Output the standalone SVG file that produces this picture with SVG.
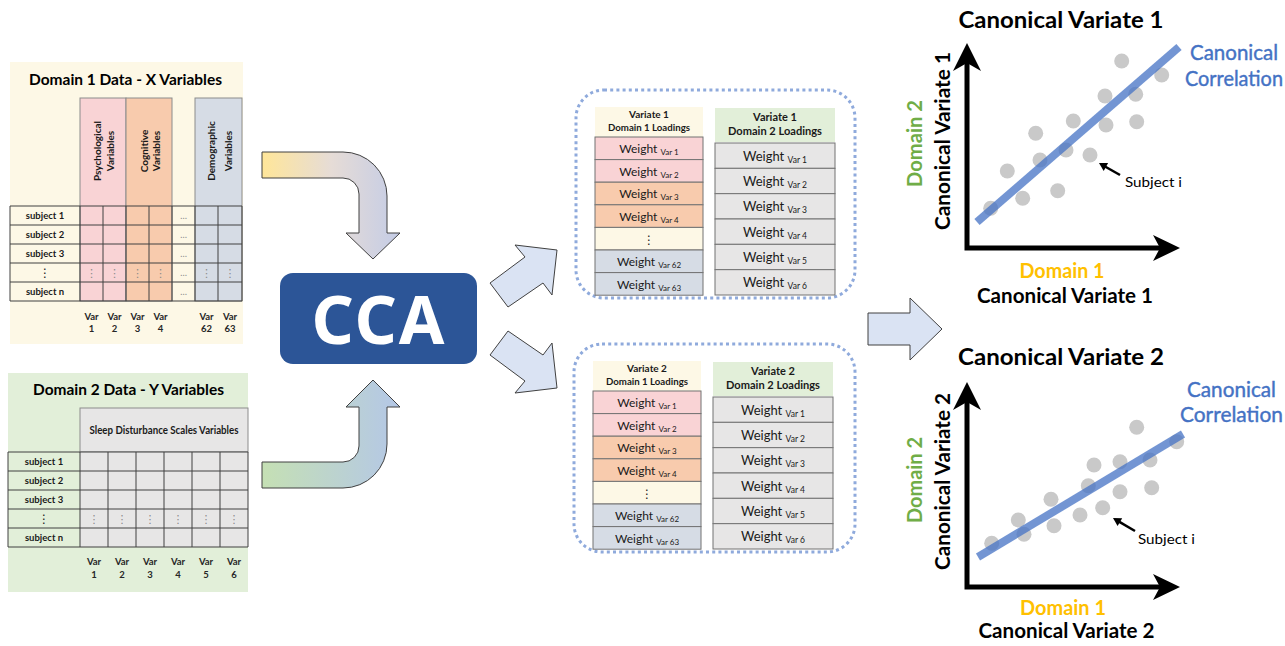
<svg xmlns="http://www.w3.org/2000/svg" width="1285" height="646" viewBox="0 0 1285 646">
<defs>
<style>
text{font-family:Lato,"Liberation Sans",sans-serif}
.b{font-weight:bold}
.hd{stroke:#8c8c8c;stroke-width:1}
.grid{stroke:#404040;stroke-width:1;fill:none}
.sl{font-size:9.5px;font-weight:bold;fill:#1a1a1a;text-anchor:middle}
.vd{font-family:"DejaVu Sans",sans-serif;fill:#8a8a8a;font-size:11px;text-anchor:middle}
.vdk{font-family:"DejaVu Sans",sans-serif;fill:#1a1a1a;font-size:12px;text-anchor:middle}
.el{fill:#8a8a8a;font-size:9px;text-anchor:middle}
.vl{font-size:9.5px;font-weight:bold;fill:#262626;text-anchor:middle}
.rot{font-size:10px;font-weight:bold;fill:#1a1a1a;text-anchor:middle;dominant-baseline:central}
.cell{stroke:#737373;stroke-width:1}
.w{font-size:12px;fill:#1a1a1a;text-anchor:middle}
.w2{font-size:13px;fill:#1a1a1a;text-anchor:middle}
.lh{font-size:10px;font-weight:bold;fill:#1a1a1a;text-anchor:middle}
.lh2{font-size:11px;font-weight:bold;fill:#1a1a1a;text-anchor:middle}
.pk{fill:#f9d3d5}.or{fill:#f8cbad}.cr{fill:#fdf8e6}.bl{fill:#d6dce5}.gy{fill:#e7e6e6}
.dot{fill:#c9c9c9}
.fit{stroke:#4472c4;stroke-opacity:.75;stroke-width:8}
.ax{stroke:#000;stroke-width:5;fill:none}
.title{font-size:22px;font-weight:bold;fill:#000;text-anchor:middle}
.cc{font-size:20.5px;fill:#4472c4;text-anchor:middle;stroke:#4472c4;stroke-width:0.4}
.d2{font-size:21px;font-weight:bold;fill:#70ad47;text-anchor:middle}
.d1{font-size:20px;font-weight:bold;fill:#ffc000;text-anchor:middle}
.yl{font-size:21px;font-weight:bold;fill:#000;text-anchor:middle}
.si{font-size:14px;fill:#000}
.dotbox{fill:none;stroke:#8faadc;stroke-width:3;stroke-dasharray:3 3.2}
.arw{fill:#dae3f3;stroke:#404040;stroke-width:1}
</style>
<linearGradient id="gTop" gradientUnits="userSpaceOnUse" x1="262" y1="0" x2="400" y2="0">
<stop offset="0" stop-color="#ffe699"/>
<stop offset="0.5" stop-color="#e6dcd6"/>
<stop offset="1" stop-color="#c4cce6"/>
</linearGradient>
<linearGradient id="gBot" gradientUnits="userSpaceOnUse" x1="262" y1="0" x2="400" y2="0">
<stop offset="0" stop-color="#c5e0b4"/>
<stop offset="1" stop-color="#b4c7e7"/>
</linearGradient>
</defs>
<rect width="1285" height="646" fill="#fff"/>

<g id="domain1">
<rect x="10" y="62" width="233" height="282" class="cr"/>
<text x="125.5" y="85" font-size="16" class="b" text-anchor="middle" textLength="193" lengthAdjust="spacingAndGlyphs">Domain 1 Data - X Variables</text>
<rect x="80" y="98" width="46" height="203" class="pk hd"/>
<rect x="126" y="98" width="46" height="203" class="or hd"/>
<rect x="195" y="98" width="47" height="203" class="bl hd"/>
<text class="rot" transform="translate(97,151) rotate(-90)">Psychological</text>
<text class="rot" transform="translate(110,151) rotate(-90)">Variables</text>
<text class="rot" transform="translate(143.5,151) rotate(-90)">Cognitive</text>
<text class="rot" transform="translate(156,151) rotate(-90)">Variables</text>
<text class="rot" transform="translate(211,151) rotate(-90)">Demographic</text>
<text class="rot" transform="translate(227.5,151) rotate(-90)">Variables</text>
<path class="grid" d="M10 206H242M10 225H242M10 244H242M10 263H242M10 282H242M10 301H242M10 206V301M80 206V301M103 206V301M126 206V301M149 206V301M172 206V301M195 206V301M218 206V301M242 206V301"/>
<text class="sl" x="45" y="219">subject 1</text>
<text class="sl" x="45" y="238">subject 2</text>
<text class="sl" x="45" y="257">subject 3</text>
<text class="vdk" x="45" y="277">⋮</text>
<text class="sl" x="45" y="295">subject n</text>
<text class="el" x="183.5" y="219">…</text>
<text class="el" x="183.5" y="238">…</text>
<text class="el" x="183.5" y="257">…</text>
<text class="el" x="183.5" y="276">…</text>
<text class="el" x="183.5" y="295">…</text>
<text class="vd" x="91.5" y="277">⋮</text>
<text class="vd" x="114.5" y="277">⋮</text>
<text class="vd" x="137.5" y="277">⋮</text>
<text class="vd" x="160.5" y="277">⋮</text>
<text class="vd" x="206.5" y="277">⋮</text>
<text class="vd" x="230" y="277">⋮</text>
<text class="vl" x="91.5" y="320">Var</text><text class="vl" x="91.5" y="332">1</text>
<text class="vl" x="114.5" y="320">Var</text><text class="vl" x="114.5" y="332">2</text>
<text class="vl" x="137.5" y="320">Var</text><text class="vl" x="137.5" y="332">3</text>
<text class="vl" x="160.5" y="320">Var</text><text class="vl" x="160.5" y="332">4</text>
<text class="vl" x="206.5" y="320">Var</text><text class="vl" x="206.5" y="332">62</text>
<text class="vl" x="230" y="320">Var</text><text class="vl" x="230" y="332">63</text>
</g>

<g id="domain2">
<rect x="8" y="373" width="240" height="219" fill="#e2efd9"/>
<text x="128.5" y="395" font-size="16" class="b" text-anchor="middle" textLength="191" lengthAdjust="spacingAndGlyphs">Domain 2 Data - Y Variables</text>
<rect x="80" y="408" width="168" height="44" class="gy hd"/>
<text x="164" y="434" font-size="10.5" class="b" fill="#1a1a1a" text-anchor="middle" textLength="149" lengthAdjust="spacingAndGlyphs">Sleep Disturbance Scales Variables</text>
<rect x="80" y="452" width="168" height="95" class="gy"/>
<path class="grid" d="M8 452H248M8 471H248M8 490H248M8 509H248M8 528H248M8 547H248M8 452V547M80 452V547M108 452V547M136 452V547M164 452V547M192 452V547M220 452V547M248 452V547"/>
<text class="sl" x="44" y="465">subject 1</text>
<text class="sl" x="44" y="484">subject 2</text>
<text class="sl" x="44" y="503">subject 3</text>
<text class="vdk" x="44" y="523">⋮</text>
<text class="sl" x="44" y="541">subject n</text>
<text class="vd" x="94" y="523">⋮</text>
<text class="vd" x="122" y="523">⋮</text>
<text class="vd" x="150" y="523">⋮</text>
<text class="vd" x="178" y="523">⋮</text>
<text class="vd" x="206" y="523">⋮</text>
<text class="vd" x="234" y="523">⋮</text>
<text class="vl" x="94" y="565">Var</text><text class="vl" x="94" y="578">1</text>
<text class="vl" x="122" y="565">Var</text><text class="vl" x="122" y="578">2</text>
<text class="vl" x="150" y="565">Var</text><text class="vl" x="150" y="578">3</text>
<text class="vl" x="178" y="565">Var</text><text class="vl" x="178" y="578">4</text>
<text class="vl" x="206" y="565">Var</text><text class="vl" x="206" y="578">5</text>
<text class="vl" x="234" y="565">Var</text><text class="vl" x="234" y="578">6</text>
</g>

<g id="connectors">
<path d="M262 152H343A44 44 0 0 1 387 196V233H400L373 259L346 233H359V194A16 16 0 0 0 343 178H262Z" fill="url(#gTop)" stroke="#404040" stroke-width="1"/>
<path d="M262 488H343A44 44 0 0 0 387 444V407H400L373 380L346 407H359V446A16 16 0 0 1 343 462H262Z" fill="url(#gBot)" stroke="#404040" stroke-width="1"/>
<polygon class="arw" points="490,283 525,257 515,245 557,250 552,295 543,283 508,307"/>
<polygon class="arw" points="490,355 525,381 515,393 557,388 552,343 543,355 508,331"/>
<polygon class="arw" points="868,313 910,313 910,298 942,329 910,360 910,345 868,345"/>
</g>

<g id="cca">
<rect x="280" y="273" width="197" height="91" rx="13" fill="#2c5597"/>
<text x="379" y="344" font-weight="700" font-size="66" fill="#fff" text-anchor="middle" letter-spacing="2" style="font-family:'Noto Sans','Open Sans',sans-serif">CCA</text>
</g>

<g id="loadings1">
<rect class="dotbox" x="576" y="90" width="279" height="208" rx="28"/>
<rect x="595" y="107" width="108" height="30" class="cr"/>
<text class="lh" x="649" y="118">Variate 1</text>
<text class="lh" x="649" y="131" textLength="82" lengthAdjust="spacingAndGlyphs">Domain 1 Loadings</text>
<rect x="595" y="137" width="108" height="22.6" class="pk cell"/>
<rect x="595" y="159.6" width="108" height="22.6" class="pk cell"/>
<rect x="595" y="182.2" width="108" height="22.6" class="or cell"/>
<rect x="595" y="204.8" width="108" height="22.6" class="or cell"/>
<rect x="595" y="227.4" width="108" height="22.6" class="cr cell"/>
<rect x="595" y="250" width="108" height="22.6" class="bl cell"/>
<rect x="595" y="272.6" width="108" height="22.6" class="bl cell"/>
<text class="w" x="649" y="153">Weight <tspan font-size="8" dy="2">Var 1</tspan></text>
<text class="w" x="649" y="175.6">Weight <tspan font-size="8" dy="2">Var 2</tspan></text>
<text class="w" x="649" y="198.2">Weight <tspan font-size="8" dy="2">Var 3</tspan></text>
<text class="w" x="649" y="220.8">Weight <tspan font-size="8" dy="2">Var 4</tspan></text>
<text class="vdk" x="649" y="244" font-size="14">⋮</text>
<text class="w" x="649" y="266">Weight <tspan font-size="8" dy="2">Var 62</tspan></text>
<text class="w" x="649" y="288.6">Weight <tspan font-size="8" dy="2">Var 63</tspan></text>
<rect x="715" y="108" width="120" height="34" fill="#e2efd9"/>
<text class="lh2" x="775" y="121">Variate 1</text>
<text class="lh2" x="775" y="135" textLength="94" lengthAdjust="spacingAndGlyphs">Domain 2 Loadings</text>
<rect x="715" y="143" width="120" height="25.33" class="gy cell"/>
<rect x="715" y="168.33" width="120" height="25.33" class="gy cell"/>
<rect x="715" y="193.67" width="120" height="25.33" class="gy cell"/>
<rect x="715" y="219" width="120" height="25.33" class="gy cell"/>
<rect x="715" y="244.33" width="120" height="25.33" class="gy cell"/>
<rect x="715" y="269.67" width="120" height="25.33" class="gy cell"/>
<text class="w2" x="775" y="160.5">Weight <tspan font-size="8.5" dy="2">Var 1</tspan></text>
<text class="w2" x="775" y="185.8">Weight <tspan font-size="8.5" dy="2">Var 2</tspan></text>
<text class="w2" x="775" y="211.2">Weight <tspan font-size="8.5" dy="2">Var 3</tspan></text>
<text class="w2" x="775" y="236.5">Weight <tspan font-size="8.5" dy="2">Var 4</tspan></text>
<text class="w2" x="775" y="261.8">Weight <tspan font-size="8.5" dy="2">Var 5</tspan></text>
<text class="w2" x="775" y="287.2">Weight <tspan font-size="8.5" dy="2">Var 6</tspan></text>
</g>

<g id="loadings2" transform="translate(-2,254)">
<rect class="dotbox" x="576" y="90" width="281" height="208" rx="28"/>
<rect x="595" y="107" width="108" height="30" class="cr"/>
<text class="lh" x="649" y="118">Variate 2</text>
<text class="lh" x="649" y="131" textLength="82" lengthAdjust="spacingAndGlyphs">Domain 1 Loadings</text>
<rect x="595" y="137" width="108" height="22.6" class="pk cell"/>
<rect x="595" y="159.6" width="108" height="22.6" class="pk cell"/>
<rect x="595" y="182.2" width="108" height="22.6" class="or cell"/>
<rect x="595" y="204.8" width="108" height="22.6" class="or cell"/>
<rect x="595" y="227.4" width="108" height="22.6" class="cr cell"/>
<rect x="595" y="250" width="108" height="22.6" class="bl cell"/>
<rect x="595" y="272.6" width="108" height="22.6" class="bl cell"/>
<text class="w" x="649" y="153">Weight <tspan font-size="8" dy="2">Var 1</tspan></text>
<text class="w" x="649" y="175.6">Weight <tspan font-size="8" dy="2">Var 2</tspan></text>
<text class="w" x="649" y="198.2">Weight <tspan font-size="8" dy="2">Var 3</tspan></text>
<text class="w" x="649" y="220.8">Weight <tspan font-size="8" dy="2">Var 4</tspan></text>
<text class="vdk" x="649" y="244" font-size="14">⋮</text>
<text class="w" x="649" y="266">Weight <tspan font-size="8" dy="2">Var 62</tspan></text>
<text class="w" x="649" y="288.6">Weight <tspan font-size="8" dy="2">Var 63</tspan></text>
<rect x="715" y="108" width="120" height="34" fill="#e2efd9"/>
<text class="lh2" x="775" y="121">Variate 2</text>
<text class="lh2" x="775" y="135" textLength="94" lengthAdjust="spacingAndGlyphs">Domain 2 Loadings</text>
<rect x="715" y="143" width="120" height="25.33" class="gy cell"/>
<rect x="715" y="168.33" width="120" height="25.33" class="gy cell"/>
<rect x="715" y="193.67" width="120" height="25.33" class="gy cell"/>
<rect x="715" y="219" width="120" height="25.33" class="gy cell"/>
<rect x="715" y="244.33" width="120" height="25.33" class="gy cell"/>
<rect x="715" y="269.67" width="120" height="25.33" class="gy cell"/>
<text class="w2" x="775" y="160.5">Weight <tspan font-size="8.5" dy="2">Var 1</tspan></text>
<text class="w2" x="775" y="185.8">Weight <tspan font-size="8.5" dy="2">Var 2</tspan></text>
<text class="w2" x="775" y="211.2">Weight <tspan font-size="8.5" dy="2">Var 3</tspan></text>
<text class="w2" x="775" y="236.5">Weight <tspan font-size="8.5" dy="2">Var 4</tspan></text>
<text class="w2" x="775" y="261.8">Weight <tspan font-size="8.5" dy="2">Var 5</tspan></text>
<text class="w2" x="775" y="287.2">Weight <tspan font-size="8.5" dy="2">Var 6</tspan></text>
</g>

<g id="plot1">
<text class="title" x="1061" y="28" textLength="205" lengthAdjust="spacingAndGlyphs">Canonical Variate 1</text>
<circle class="dot" cx="1121.7" cy="61" r="7.5"/>
<circle class="dot" cx="1161.7" cy="75" r="7.5"/>
<circle class="dot" cx="1105" cy="96" r="7.5"/>
<circle class="dot" cx="1135.7" cy="94.3" r="7.5"/>
<circle class="dot" cx="1073.3" cy="121" r="7.5"/>
<circle class="dot" cx="1106" cy="125" r="7.5"/>
<circle class="dot" cx="1136.7" cy="121.7" r="7.5"/>
<circle class="dot" cx="1035.7" cy="133.3" r="7.5"/>
<circle class="dot" cx="1066" cy="150" r="7.5"/>
<circle class="dot" cx="1090" cy="155" r="7.5"/>
<circle class="dot" cx="1040" cy="160" r="7.5"/>
<circle class="dot" cx="1007.3" cy="171" r="7.5"/>
<circle class="dot" cx="1057.7" cy="190.7" r="7.5"/>
<circle class="dot" cx="1022.7" cy="198.3" r="7.5"/>
<circle class="dot" cx="990.7" cy="208.3" r="7.5"/>
<line class="fit" x1="977" y1="222" x2="1179" y2="47"/>
<path class="ax" d="M967 58V250.5M964.5 248H1166"/>
<polygon points="967,43 981,71 967,63 953,71"/>
<polygon points="1180,248 1153,235 1160,248 1153,261"/>
<line x1="1120" y1="175" x2="1105" y2="166.5" stroke="#000" stroke-width="2.5"/>
<polygon points="1099,163 1108.1,163.1 1103.7,170.9"/>
<text class="si" x="1125" y="187" textLength="57" lengthAdjust="spacingAndGlyphs">Subject i</text>
<text class="cc" x="1234" y="60" textLength="88" lengthAdjust="spacingAndGlyphs">Canonical</text>
<text class="cc" x="1234" y="86" textLength="98" lengthAdjust="spacingAndGlyphs">Correlation</text>
<text class="yl" transform="translate(950,141) rotate(-90)" textLength="178" lengthAdjust="spacingAndGlyphs">Canonical Variate 1</text>
<text class="d2" transform="translate(922,143.5) rotate(-90)" textLength="87" lengthAdjust="spacingAndGlyphs">Domain 2</text>
<text class="d1" x="1062" y="278" textLength="85" lengthAdjust="spacingAndGlyphs">Domain 1</text>
<text class="yl" x="1065" y="303" font-size="20.5" textLength="176" lengthAdjust="spacingAndGlyphs">Canonical Variate 1</text>
</g>

<g id="plot2">
<text class="title" x="1061" y="365" textLength="206" lengthAdjust="spacingAndGlyphs">Canonical Variate 2</text>
<circle class="dot" cx="1136.7" cy="427.3" r="7.5"/>
<circle class="dot" cx="1176.7" cy="441.7" r="7.5"/>
<circle class="dot" cx="1094" cy="465" r="7.5"/>
<circle class="dot" cx="1120" cy="461.7" r="7.5"/>
<circle class="dot" cx="1150" cy="460" r="7.5"/>
<circle class="dot" cx="1088.3" cy="485.7" r="7.5"/>
<circle class="dot" cx="1120" cy="491.7" r="7.5"/>
<circle class="dot" cx="1151.7" cy="487.7" r="7.5"/>
<circle class="dot" cx="1051" cy="499.3" r="7.5"/>
<circle class="dot" cx="1102.7" cy="507.7" r="7.5"/>
<circle class="dot" cx="1080" cy="515" r="7.5"/>
<circle class="dot" cx="1018.3" cy="520" r="7.5"/>
<circle class="dot" cx="1054" cy="525.7" r="7.5"/>
<circle class="dot" cx="1024" cy="534.3" r="7.5"/>
<circle class="dot" cx="991.7" cy="543.3" r="7.5"/>
<line class="fit" x1="978" y1="557" x2="1183" y2="434"/>
<path class="ax" d="M967 397V589.5M964.5 587H1166"/>
<polygon points="967,382 981,410 967,402 953,410"/>
<polygon points="1180,587 1153,574 1160,587 1153,600"/>
<line x1="1135" y1="531" x2="1119" y2="521.6" stroke="#000" stroke-width="2.5"/>
<polygon points="1113,518 1122.2,518.2 1117.6,526"/>
<text class="si" x="1138" y="544" textLength="57" lengthAdjust="spacingAndGlyphs">Subject i</text>
<text class="cc" x="1231.5" y="397" textLength="89" lengthAdjust="spacingAndGlyphs">Canonical</text>
<text class="cc" x="1231.5" y="422" textLength="103" lengthAdjust="spacingAndGlyphs">Correlation</text>
<text class="yl" transform="translate(950,481.5) rotate(-90)" textLength="177" lengthAdjust="spacingAndGlyphs">Canonical Variate 2</text>
<text class="d2" transform="translate(922,480) rotate(-90)" textLength="86" lengthAdjust="spacingAndGlyphs">Domain 2</text>
<text class="d1" x="1063" y="615" textLength="86" lengthAdjust="spacingAndGlyphs">Domain 1</text>
<text class="yl" x="1066.5" y="638" font-size="20.5" textLength="176" lengthAdjust="spacingAndGlyphs">Canonical Variate 2</text>
</g>
</svg>
